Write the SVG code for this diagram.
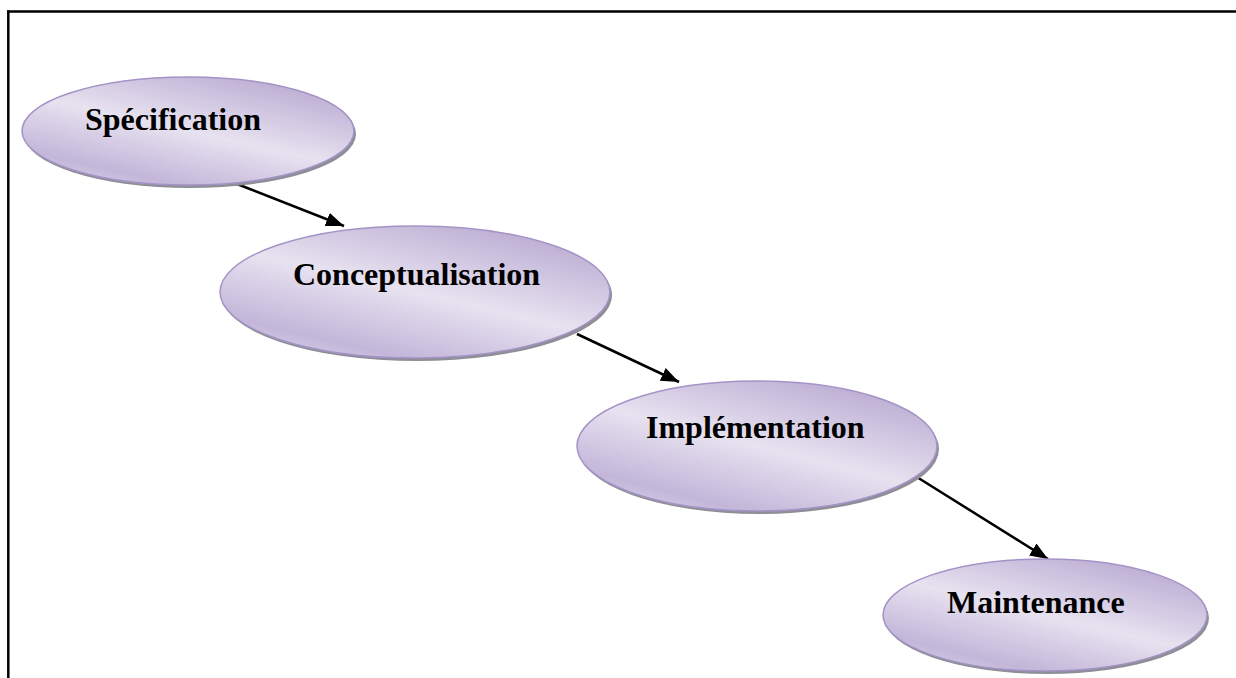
<svg xmlns="http://www.w3.org/2000/svg" width="1236" height="678" viewBox="0 0 1236 678">
  <defs>
    <linearGradient id="fillGrad" x1="0.85" y1="0" x2="0.15" y2="1">
      <stop offset="0" stop-color="#b6a6cf"/>
      <stop offset="0.5" stop-color="#e7e2f0"/>
      <stop offset="0.85" stop-color="#c3b6d9"/>
      <stop offset="1" stop-color="#d9d1e7"/>
    </linearGradient>
    <marker id="arrow" markerUnits="userSpaceOnUse" markerWidth="20" markerHeight="16" refX="18" refY="7" orient="auto">
      <path d="M0,0 L18,7 L0,14 Z" fill="#000"/>
    </marker>
    <style>
      .node-shadow { fill: #8e8e96; }
      .node-shape { fill: url(#fillGrad); stroke: #a493c6; stroke-width: 1.5; }
      .label { font-family: "Liberation Serif", "Times New Roman", serif; font-weight: bold; font-size: 32px; fill: #000; }
      .conn { stroke: #000; stroke-width: 2.5; fill: none; marker-end: url(#arrow); }
      .frame { stroke: #000; stroke-width: 2.5; fill: none; }
    </style>
  </defs>
  <rect width="1236" height="678" fill="#fff"/>
  <g id="frame">
    <line class="frame" x1="7" y1="11.5" x2="1236" y2="11.5"/>
    <line class="frame" x1="8.3" y1="10.5" x2="8.3" y2="678"/>
  </g>
  <g id="connectors">
    <line class="conn" x1="237" y1="184" x2="344" y2="226"/>
    <line class="conn" x1="577" y1="334" x2="679" y2="382"/>
    <line class="conn" x1="912" y1="474" x2="1048" y2="559"/>
  </g>
  <g id="node-specification">
    <ellipse class="node-shadow" cx="190" cy="134" rx="166" ry="54"/>
    <ellipse class="node-shape" cx="188" cy="131" rx="166" ry="54"/>
    <text class="label" x="85" y="130">Spécification</text>
  </g>
  <g id="node-conceptualisation">
    <ellipse class="node-shadow" cx="417" cy="295" rx="195" ry="66"/>
    <ellipse class="node-shape" cx="415" cy="292" rx="195" ry="66"/>
    <text class="label" x="293" y="285">Conceptualisation</text>
  </g>
  <g id="node-implementation">
    <ellipse class="node-shadow" cx="759" cy="449" rx="180" ry="65"/>
    <ellipse class="node-shape" cx="757" cy="446" rx="180" ry="65"/>
    <text class="label" x="646" y="438">Implémentation</text>
  </g>
  <g id="node-maintenance">
    <ellipse class="node-shadow" cx="1047" cy="618" rx="162" ry="56"/>
    <ellipse class="node-shape" cx="1045" cy="615" rx="162" ry="56"/>
    <text class="label" x="947" y="613">Maintenance</text>
  </g>
</svg>
